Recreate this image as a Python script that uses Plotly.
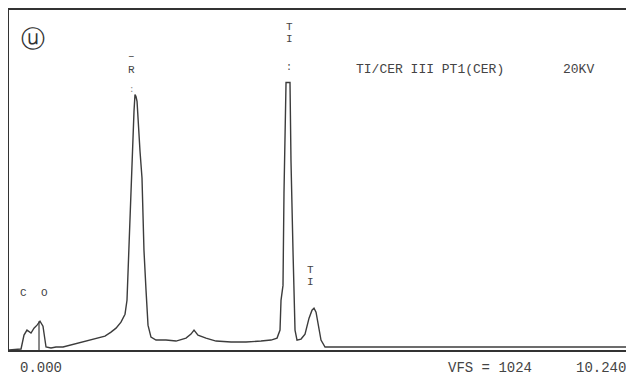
import plotly.graph_objects as go

# EDS spectrum: energy (keV) vs counts (arbitrary units)
energy_kev = [0.000, 0.194, 0.242, 0.290, 0.355, 0.403, 0.452, 0.500, 0.548, 0.597,
              0.677, 0.758, 0.871, 1.000, 1.129, 1.258, 1.403, 1.548, 1.645, 1.726,
              1.806, 1.871, 1.903, 1.919, 1.935, 1.968, 1.984, 2.016, 2.032, 2.048,
              2.065, 2.081, 2.113, 2.145, 2.177, 2.210, 2.242, 2.290, 2.371, 2.532,
              2.694, 2.855, 2.935, 2.984, 3.048, 3.177, 3.339, 3.581, 3.823, 4.065,
              4.226, 4.323, 4.371, 4.387, 4.419, 4.435, 4.452, 4.468, 4.532, 4.548,
              4.581, 4.613, 4.645, 4.710, 4.774, 4.839, 4.887, 4.919, 4.952, 4.984,
              5.032, 5.097, 5.355, 6.323, 7.935, 10.032]
counts = [0, 1, 15, 20, 17, 22, 25, 29, 24, 3,
          2, 3, 3, 5, 7, 9, 11, 14, 18, 22,
          28, 36, 50, 80, 108, 160, 202, 240, 257, 255,
          250, 228, 200, 173, 100, 60, 25, 13, 10, 10,
          9, 12, 16, 20, 15, 12, 9, 8, 8, 9,
          10, 12, 20, 50, 65, 158, 200, 269, 269, 190,
          98, 20, 10, 11, 16, 32, 40, 42, 38, 25,
          10, 3, 3, 3, 3, 3]

cursor_kev = 0.484
cursor_counts = 29

header_left = "TI/CER III PT1(CER)"
header_right = "20KV"
start_label = "0.000"
vfs_label = "VFS = 1024"
end_label = "10.240"

ink = "#3c3c3c"
mono = "Liberation Mono, DejaVu Sans Mono, monospace"

fig = go.Figure()
fig.add_trace(go.Scatter(x=energy_kev, y=counts, mode="lines",
                         line=dict(color=ink, width=1.4), hoverinfo="skip"))
fig.add_trace(go.Scatter(x=[cursor_kev, cursor_kev], y=[0, cursor_counts], mode="lines",
                         line=dict(color=ink, width=1.2), hoverinfo="skip"))

def ann(x, y, text, size=12, xanchor="center", color="#444", yref="y"):
    fig.add_annotation(x=x, y=y, xref="x", yref=yref, text=text, showarrow=False,
                       xanchor=xanchor, yanchor="middle",
                       font=dict(family=mono, size=size, color=color))

ann(0.387, 311, "ⓤ", size=24, color="#333")
ann(1.968, 296, "–", size=11)
ann(1.968, 282, "R", size=11)
ann(1.968, 262, ":", size=9, color="#888")
ann(4.516, 325, "T", size=11)
ann(4.516, 313, "I", size=11)
ann(4.516, 284, ":", size=10)
ann(4.855, 80, "T", size=11)
ann(4.855, 68, "I", size=11)
ann(0.226, 57, "C", size=11)
ann(0.565, 57, "O", size=11)
ann(5.565, 282, header_left, size=13, xanchor="left")
ann(8.903, 282, header_right, size=13, xanchor="left")
ann(0.145, -0.053, start_label, size=14, xanchor="left", yref="paper")
ann(7.048, -0.053, vfs_label, size=14, xanchor="left", yref="paper")
ann(9.113, -0.053, end_label, size=14, xanchor="left", yref="paper")

fig.update_layout(
    width=626, height=372,
    margin=dict(l=1, r=0, t=0, b=30),
    paper_bgcolor="white", plot_bgcolor="white",
    showlegend=False,
    xaxis=dict(range=[0, 10.08], showgrid=False, zeroline=False, showticklabels=False,
               ticks="", showline=True, linecolor="#333", linewidth=2, mirror=True),
    yaxis=dict(range=[0, 342], showgrid=False, zeroline=False, showticklabels=False,
               ticks="", showline=True, linecolor="#333", linewidth=2, mirror=False),
)

fig.write_html("out.html")
